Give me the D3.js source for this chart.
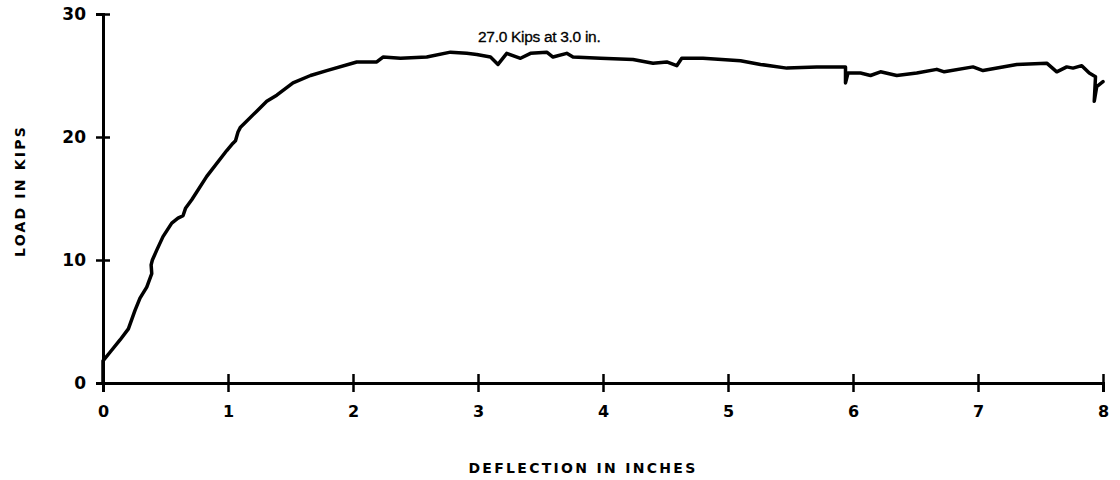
<!DOCTYPE html>
<html>
<head>
<meta charset="utf-8">
<script src="https://cdn.jsdelivr.net/npm/d3@7"></script>
<style>
  body { margin: 0; background: #fff; }
  svg { display: block; }
</style>
</head>
<body>
<svg id="svg"></svg>
<script>
// load-deflection trace
let deflection = [0, 0, 0.056, 0.136, 0.203, 0.256, 0.296, 0.35, 0.39, 0.385, 0.395, 0.43, 0.48, 0.55, 0.60, 0.64, 0.66, 0.71, 0.83, 0.99, 1.04, 1.06, 1.08, 1.10, 1.23, 1.31, 1.39, 1.52, 1.66, 1.79, 2.03, 2.19, 2.24, 2.38, 2.59, 2.78, 2.91, 2.99, 3.10, 3.16, 3.23, 3.34, 3.42, 3.55, 3.60, 3.71, 3.76, 3.98, 4.24, 4.40, 4.51, 4.59, 4.63, 4.80, 5.10, 5.26, 5.47, 5.71, 5.94, 5.94, 5.96, 6.06, 6.14, 6.22, 6.35, 6.51, 6.67, 6.73, 6.96, 7.04, 7.31, 7.55, 7.63, 7.71, 7.76, 7.83, 7.89, 7.94, 7.93, 7.95, 8.00];
let load = [0, 1.8, 2.5, 3.5, 4.4, 5.9, 6.9, 7.8, 8.9, 9.6, 10.0, 10.8, 11.9, 13.0, 13.4, 13.6, 14.2, 14.9, 16.8, 18.9, 19.5, 19.7, 20.4, 20.8, 22.1, 22.9, 23.4, 24.4, 25.0, 25.4, 26.1, 26.1, 26.5, 26.4, 26.5, 26.9, 26.8, 26.7, 26.5, 25.9, 26.8, 26.4, 26.8, 26.9, 26.5, 26.8, 26.5, 26.4, 26.3, 26.0, 26.1, 25.8, 26.4, 26.4, 26.2, 25.9, 25.6, 25.7, 25.7, 24.4, 25.2, 25.2, 25.0, 25.3, 25.0, 25.2, 25.5, 25.3, 25.7, 25.4, 25.9, 26.0, 25.3, 25.7, 25.6, 25.8, 25.2, 24.9, 22.9, 24.1, 24.5];
let xTicks = [0, 1, 2, 3, 4, 5, 6, 7, 8];
let yTicks = [0, 10, 20, 30];
let note = "27.0 Kips at 3.0 in.";

let width = 1120, height = 480;
let margin = { top: 14, right: 17, bottom: 97, left: 103 };
let plotW = width - margin.left - margin.right;
let plotH = height - margin.top - margin.bottom;

let data = deflection.map((d, i) => ({ x: d, y: load[i] }));

let svg = d3.select("#svg").attr("width", width).attr("height", height);
let g = svg.append("g").attr("transform", `translate(${margin.left}, ${margin.top})`);

let xScale = d3.scaleLinear().domain([0, 8]).range([0, plotW]);
let yScale = d3.scaleLinear().domain([0, 30]).range([plotH, 0]);

let tickFont = "'DejaVu Sans', sans-serif";

// x axis, ticks cross the line
let xAxis = g.append("g")
    .attr("transform", `translate(0, ${plotH})`)
    .call(d3.axisBottom(xScale).tickValues(xTicks).tickSizeOuter(0).tickSize(9).tickPadding(14));
xAxis.select(".domain").attr("stroke", "#000").attr("stroke-width", 3);
xAxis.selectAll(".tick line").attr("y1", -9).attr("stroke-width", 2.5);
xAxis.selectAll(".tick text")
    .attr("font-family", tickFont).attr("font-weight", "bold").attr("font-size", 16).attr("fill", "#000");

// y axis
let yAxis = g.append("g")
    .call(d3.axisLeft(yScale).tickValues(yTicks).tickSizeOuter(0).tickSize(7).tickPadding(10));
yAxis.select(".domain").attr("stroke", "#000").attr("stroke-width", 3);
yAxis.selectAll(".tick line").attr("x1", 7).attr("x2", -7).attr("stroke-width", 2.5);
yAxis.selectAll(".tick text")
    .attr("font-family", tickFont).attr("font-weight", "bold").attr("font-size", 17).attr("fill", "#000");

// curve
let line = d3.line().x(d => xScale(d.x)).y(d => yScale(d.y));
g.append("path")
    .datum(data)
    .attr("d", line)
    .attr("fill", "none")
    .attr("stroke", "#000")
    .attr("stroke-width", 3.5)
    .attr("stroke-linejoin", "round")
    .attr("stroke-linecap", "round");

// annotation above the peak
g.append("text")
    .attr("x", xScale(3.0))
    .attr("y", yScale(27) - 9)
    .attr("text-anchor", "start")
    .attr("font-family", "'Liberation Sans', Arial, sans-serif")
    .attr("font-size", 15.5)
    .attr("letter-spacing", -0.3)
    .attr("stroke", "#000")
    .attr("stroke-width", 0.3)
    .text(note);

// axis titles
svg.append("text")
    .attr("x", 583)
    .attr("y", 473)
    .attr("text-anchor", "middle")
    .attr("font-family", tickFont)
    .attr("font-weight", "bold")
    .attr("font-size", 14)
    .attr("letter-spacing", 2.3)
    .text("DEFLECTION IN INCHES");

svg.append("text")
    .attr("transform", "translate(25, 191) rotate(-90)")
    .attr("text-anchor", "middle")
    .attr("font-family", tickFont)
    .attr("font-weight", "bold")
    .attr("font-size", 14)
    .attr("letter-spacing", 2.2)
    .text("LOAD IN KIPS");
</script>
</body>
</html>
